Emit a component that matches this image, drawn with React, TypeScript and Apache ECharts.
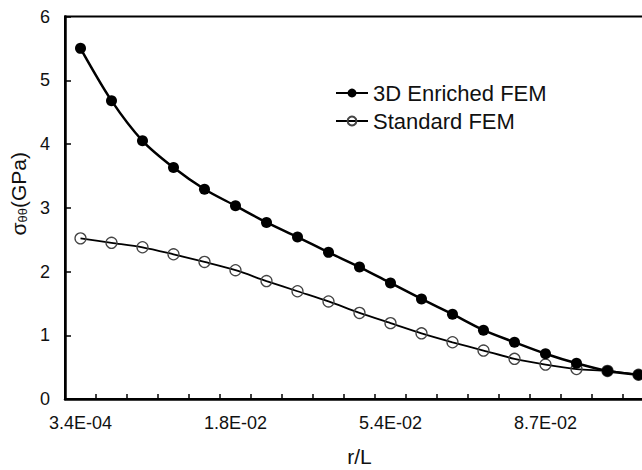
import React, { useEffect, useRef } from "react";
import * as echarts from "echarts";

const categories = [
  "3.4E-04", "3.0E-03", "6.5E-03", "1.0E-02", "1.4E-02",
  "1.8E-02", "2.5E-02", "3.2E-02", "3.9E-02", "4.7E-02",
  "5.4E-02", "6.1E-02", "6.7E-02", "7.4E-02", "8.0E-02",
  "8.7E-02", "9.4E-02", "1.0E-01", "1.1E-01",
];
const enrichedFEM = [5.5, 4.68, 4.05, 3.63, 3.29, 3.03, 2.77, 2.54, 2.3, 2.07, 1.82, 1.57, 1.33, 1.08, 0.89, 0.71, 0.56, 0.44, 0.38];
const standardFEM = [2.52, 2.45, 2.38, 2.27, 2.15, 2.02, 1.85, 1.69, 1.53, 1.35, 1.19, 1.03, 0.89, 0.76, 0.63, 0.54, 0.47, 0.44, 0.38];

const FONT = "'Liberation Sans', Arial, sans-serif";

export default function App() {
  const ref = useRef<HTMLDivElement>(null);
  useEffect(() => {
    if (!ref.current) return;
    const chart = echarts.init(ref.current, undefined, { renderer: "svg" });
    chart.setOption({
      animation: false,
      backgroundColor: "#fff",
      textStyle: { fontFamily: FONT },
      grid: {
        left: 65,
        top: 16.5,
        right: -12,
        bottom: 71,
        show: true,
        borderColor: "#000",
        borderWidth: 2,
        containLabel: false,
        outerBoundsMode: "none",
      },
      legend: {
        left: 330,
        top: 77,
        orient: "vertical",
        itemWidth: 32,
        itemHeight: 11,
        itemGap: 6,
        textStyle: { fontSize: 22, color: "#111", fontFamily: FONT, lineHeight: 22 },
        data: ["3D Enriched FEM", "Standard FEM"],
      },
      xAxis: {
        type: "category",
        data: categories,
        boundaryGap: true,
        name: "r/L",
        nameLocation: "middle",
        nameGap: 47,
        nameTextStyle: { fontSize: 21, color: "#111", fontFamily: FONT },
        axisLine: { lineStyle: { color: "#000", width: 2.5 } },
        axisTick: { show: true, inside: true, length: 5, interval: 0, lineStyle: { color: "#000", width: 1.5 } },
        axisLabel: { interval: 4, margin: 15, fontSize: 18, color: "#111", fontFamily: FONT },
        splitLine: { show: false },
      },
      yAxis: {
        type: "value",
        min: 0,
        max: 6,
        interval: 1,
        name: "{s|σ}{sub|θθ}{n|(GPa)}",
        nameLocation: "middle",
        nameRotate: 90,
        nameGap: 32,
        nameTextStyle: {
          color: "#111",
          fontFamily: FONT,
          padding: [0, 0, 0, 28],
          rich: {
            s: { fontSize: 21, color: "#111", fontFamily: FONT },
            sub: { fontSize: 13, color: "#111", fontFamily: FONT, verticalAlign: "bottom", padding: [6, 0, 0, 0] },
            n: { fontSize: 21, color: "#111", fontFamily: FONT },
          },
        },
        axisLine: { show: true, lineStyle: { color: "#000", width: 2.5 } },
        axisTick: { show: true, inside: true, length: 6, lineStyle: { color: "#000", width: 1.5 } },
        axisLabel: { margin: 15, fontSize: 18, color: "#111", fontFamily: FONT },
        splitLine: { show: false },
      },
      series: [
        {
          name: "3D Enriched FEM",
          type: "line",
          data: enrichedFEM,
          smooth: 0.3,
          symbol: "circle",
          symbolSize: 11,
          itemStyle: { color: "#000" },
          lineStyle: { color: "#000", width: 2.5 },
          z: 3,
        },
        {
          name: "Standard FEM",
          type: "line",
          data: standardFEM,
          smooth: 0.3,
          symbol: "circle",
          symbolSize: 11,
          itemStyle: { color: "none", borderColor: "#444", borderWidth: 1.3 },
          lineStyle: { color: "#000", width: 1.8 },
          z: 2,
        },
      ],
    });
    return () => chart.dispose();
  }, []);
  return (
    <div
      ref={ref}
      style={{ position: "fixed", left: 0, top: 0, width: 642, height: 470, background: "#fff" }}
    />
  );
}
